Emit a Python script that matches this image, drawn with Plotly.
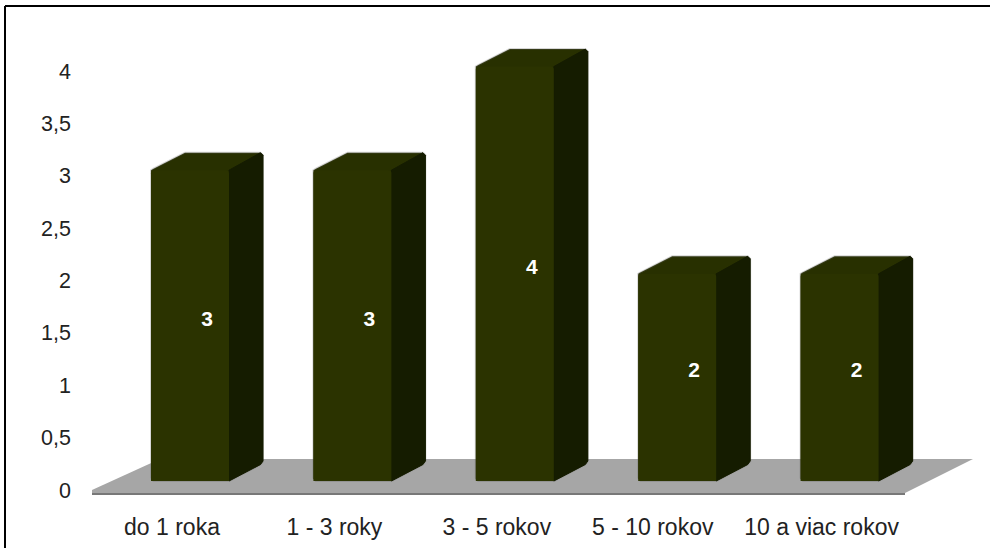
import plotly.graph_objects as go

categories = ["do 1 roka", "1 - 3 roky", "3 - 5 rokov", "5 - 10 rokov", "10 a viac rokov"]
values = [3, 3, 4, 2, 2]
label_slots = [0, 1, 2, 2.96, 4]
y_ticks = [0, 0.5, 1, 1.5, 2, 2.5, 3, 3.5, 4]
y_tick_text = ["0", "0,5", "1", "1,5", "2", "2,5", "3", "3,5", "4"]

FRONT = "#2b3300"
SIDE = "#151c00"
TOP = "#283000"
HALO = "rgba(90,90,90,0.25)"
TEXT = "#222222"
FONT = "Liberation Sans"
W, H = 990, 548

# Plot area in pixels
LEFT, BOTTOM = 72, 505

# Scales of the extruded bars: one category step and one value unit, in pixels
STEP = 162.4
UNIT = 103.6
X0, Y0 = 190.0, 481.0
BAR = 78 / STEP
DX, DY = 34 / STEP, 17.5 / UNIT
CX, CY = 2.5 / STEP, 2.5 / UNIT  # corner chamfer


def ax_x(px):
    return (px - X0) / STEP


def ax_y(py):
    return (Y0 - py) / UNIT


def paper_x(px):
    return (px - LEFT) / (W - LEFT)


def paper_y(py):
    return (BOTTOM - py) / BOTTOM


fig = go.Figure()

# Silhouette halo, side face and top face of each bar
for i, v in enumerate(values):
    l, r = i - BAR / 2, i + BAR / 2
    sil_x = [l, l, l + CX, l + DX - CX, l + DX, r + DX - CX, r + DX, r + DX, r + DX - CX, r, r - CX, l + CX, l]
    sil_y = [0 + CY, v, v + CY * 0.6, v + DY - CY * 0.2, v + DY, v + DY, v + DY - CY, DY + CY, DY - CY * 0.4, 0, 0, 0, 0 + CY]
    fig.add_trace(go.Scatter(
        x=sil_x, y=sil_y, mode="lines", fill="toself", fillcolor=TOP,
        line=dict(color=HALO, width=2), xaxis="x2", yaxis="y2",
        hoverinfo="skip", showlegend=False))
    fig.add_trace(go.Scatter(
        x=[r, r + DX - CX, r + DX, r + DX, r + DX - CX, r, r],
        y=[0, DY - CY * 0.4, DY + CY, v + DY - CY, v + DY, v, 0],
        mode="lines", fill="toself", fillcolor=SIDE,
        line=dict(color=SIDE, width=1), xaxis="x2", yaxis="y2",
        hoverinfo="skip", showlegend=False))

# Front faces
fig.add_trace(go.Bar(
    x=list(range(len(values))), y=values, width=BAR,
    marker=dict(color=FRONT, cornerradius=3, line=dict(width=0)),
    xaxis="x3", yaxis="y3", hoverinfo="skip", showlegend=False))

# Value labels, centred on the whole extruded shape
fig.add_trace(go.Scatter(
    x=[i + DX / 2 for i in range(len(values))],
    y=[v / 2 + DY / 2 - 3.5 / UNIT for v in values],
    mode="text", text=[str(v) for v in values],
    textposition="middle center",
    textfont=dict(family=FONT, size=21, color="white", weight="bold"),
    xaxis="x3", yaxis="y3", hoverinfo="skip", showlegend=False))

# Invisible carrier for the labelled axes
fig.add_trace(go.Scatter(x=[0], y=[0], mode="markers", marker=dict(opacity=0),
                         hoverinfo="skip", showlegend=False))

TICK_UNIT = 104.75
LABEL_X0 = 172.0
bar_x_range = [ax_x(LEFT), ax_x(W)]
bar_y_range = [ax_y(BOTTOM), ax_y(0)]
hidden = dict(visible=False)


def floor_path(points):
    coords = [f"{(a - LABEL_X0) / STEP},{(490 - b) / TICK_UNIT}" for a, b in points]
    return "M " + " L ".join(coords) + " Z"


fig.update_layout(
    width=W, height=H,
    margin=dict(l=LEFT, r=0, t=0, b=H - BOTTOM, autoexpand=False),
    paper_bgcolor="white", plot_bgcolor="rgba(0,0,0,0)",
    barmode="overlay",
    xaxis=dict(range=[(LEFT - LABEL_X0) / STEP, (W - LABEL_X0) / STEP],
               tickmode="array", tickvals=label_slots, ticktext=categories,
               showgrid=False, zeroline=False, showline=False, ticks="",
               ticklabelstandoff=6, anchor="y", automargin=False,
               tickfont=dict(family=FONT, size=23, color=TEXT)),
    yaxis=dict(range=[(490 - BOTTOM) / TICK_UNIT, 490 / TICK_UNIT],
               tickmode="array", tickvals=y_ticks, ticktext=y_tick_text,
               showgrid=False, zeroline=False, showline=False, ticks="",
               anchor="x", automargin=False,
               tickfont=dict(family=FONT, size=21.5, color=TEXT)),
    xaxis2=dict(range=bar_x_range, overlaying="x", anchor="y2", **hidden),
    yaxis2=dict(range=bar_y_range, overlaying="y", anchor="x2", **hidden),
    xaxis3=dict(range=bar_x_range, overlaying="x", anchor="y3", **hidden),
    yaxis3=dict(range=bar_y_range, overlaying="y", anchor="x3", **hidden),
    shapes=[
        # Floor slab: front edge, then top surface
        dict(type="path", xref="x", yref="y", layer="below", line=dict(width=0),
             fillcolor="#787878",
             path=floor_path([(92, 490), (905, 490), (905, 495), (92, 495)])),
        dict(type="path", xref="x", yref="y", layer="below", line=dict(width=0),
             fillcolor="#a6a6a6",
             path=floor_path([(92, 490), (160, 459), (973, 459), (905, 493), (92, 493)])),
        # Frame along the top and left edges
        dict(type="line", xref="paper", yref="paper", x0=paper_x(5), x1=1,
             y0=paper_y(6), y1=paper_y(6), line=dict(color="black", width=2)),
        dict(type="line", xref="paper", yref="paper", x0=paper_x(5), x1=paper_x(5),
             y0=paper_y(H), y1=paper_y(6), line=dict(color="black", width=2)),
    ],
)

fig.write_html("out.html")
